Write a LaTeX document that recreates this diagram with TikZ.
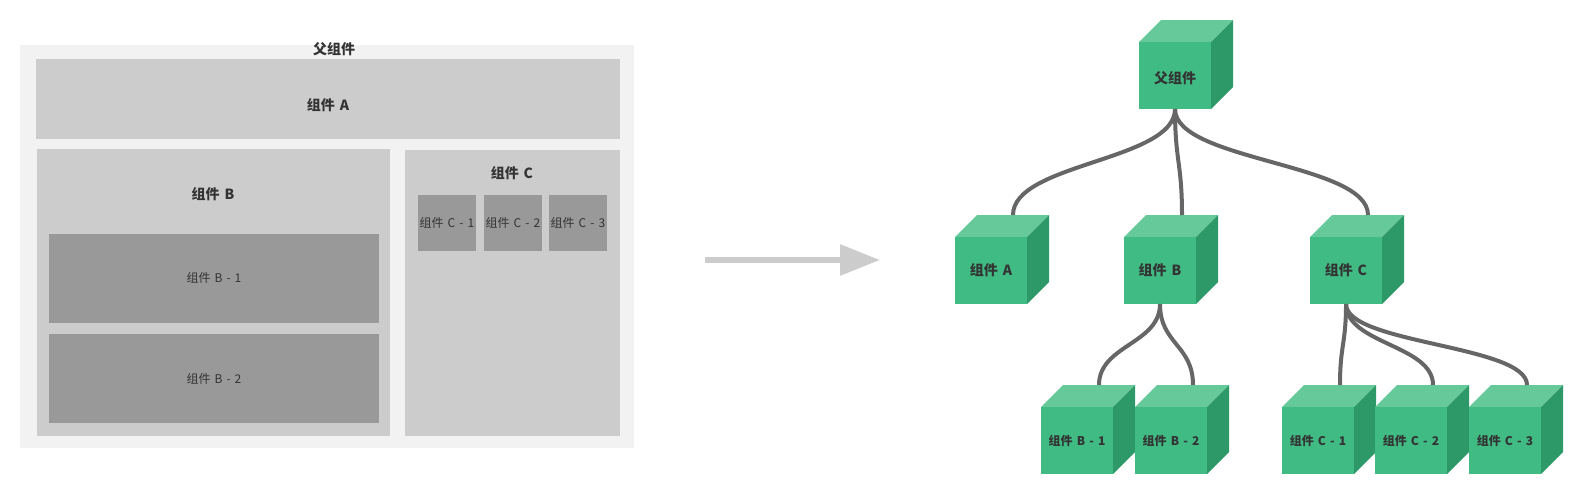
\documentclass[tikz,border=0pt]{standalone}
\usepackage{fontspec}
\setmainfont{Noto Sans CJK SC}[WordSpace=1.5]
\usetikzlibrary{arrows.meta}
\definecolor{outerg}{HTML}{F2F2F2}
\definecolor{boxg}{HTML}{CCCCCC}
\definecolor{subg}{HTML}{999999}
\definecolor{txt}{HTML}{333333}
\definecolor{cfrontc}{RGB}{63,187,131}
\definecolor{ctopc}{RGB}{102,201,153}
\definecolor{csidec}{RGB}{46,153,104}
\definecolor{lineg}{HTML}{666666}
\definecolor{arrowg}{HTML}{CCCCCC}
% #1 name, #2 x, #3 y (front top-left), #4 style, #5 label
\newcommand{\mycube}[5]{%
  \fill[ctopc] (#2,#3) -- ++(22,-22) -- ++(72,0) -- ++(-22,22) -- cycle;
  \fill[csidec] (#2+72,#3) -- ++(22,-22) -- ++(0,67) -- ++(-22,22) -- cycle;
  \node[cfront, #4, anchor=north west] (#1) at (#2,#3) {#5};
  \coordinate (#1t) at ([shift={(22,-22)}]#1.north);
}
\begin{document}
\begin{tikzpicture}[x=1pt,y=-1pt,
  panel/.style={fill=outerg},
  bigbox/.style={fill=boxg},
  subbox/.style={fill=subg},
  biglabel/.style={text=txt, font=\fontsize{14}{16}\selectfont\bfseries, inner sep=0pt},
  sublabel/.style={text=txt, font=\fontsize{12}{14}\selectfont, inner sep=0pt},
  cfront/.style={fill=cfrontc, minimum width=72pt, minimum height=67pt, inner sep=0pt, outer sep=0pt, text=txt},
  bigcube/.style={font=\fontsize{14}{16}\selectfont\bfseries},
  smallcube/.style={font=\fontsize{12}{14}\selectfont\bfseries},
  conn/.style={draw=lineg, line width=4pt},
  topconn/.style={conn, out=270, in=90, distance=52pt},
  lowconn/.style={conn, out=270, in=90, distance=40pt},
  bigarrow/.style={draw=arrowg, line width=6pt, -{Triangle[length=40pt,width=30pt]}}
]
\useasboundingbox (0,0) rectangle (1582,498);

% ---------- left panel ----------
\fill[panel] (20,45) rectangle (634,448);
\fill[bigbox] (36,59) rectangle (620,139);
\fill[bigbox] (37,149) rectangle (390,436);
\fill[bigbox] (405,150) rectangle (620,436);
\fill[subbox] (49,234) rectangle (379,323);
\fill[subbox] (49,334) rectangle (379,423);
\fill[subbox] (418,195) rectangle (476,251);
\fill[subbox] (484,195) rectangle (542,251);
\fill[subbox] (549,195) rectangle (607,251);

\node[biglabel] (lp) at (334,49) {父组件};
\node[biglabel] (la) at (328,105) {组件 A};
\node[biglabel] (lb) at (213,194) {组件 B};
\node[biglabel] (lc) at (512,173) {组件 C};
\node[sublabel] (lb1) at (214,278) {组件 B - 1};
\node[sublabel] (lb2) at (214,379) {组件 B - 2};
\node[sublabel] (lc1) at (447,223) {组件 C - 1};
\node[sublabel] (lc2) at (513,223) {组件 C - 2};
\node[sublabel] (lc3) at (578,223) {组件 C - 3};

% ---------- arrow ----------
\coordinate (arrS) at (705,260);
\coordinate (arrE) at (880,260);
\draw[bigarrow] (arrS) -- (arrE);

% ---------- cube tree ----------
\mycube{P}{1139}{42}{bigcube, text height=18pt, text depth=3pt}{父组件}
\mycube{A}{955}{237}{bigcube}{组件 A}
\mycube{B}{1124}{237}{bigcube}{组件 B}
\mycube{C}{1310}{237}{bigcube}{组件 C}
\mycube{B1}{1041}{407}{smallcube}{组件 B - 1}
\mycube{B2}{1135}{407}{smallcube}{组件 B - 2}
\mycube{C1}{1282}{407}{smallcube}{组件 C - 1}
\mycube{C2}{1375}{407}{smallcube}{组件 C - 2}
\mycube{C3}{1469}{407}{smallcube}{组件 C - 3}

\draw[topconn] (P.south) to (At);
\draw[topconn] (P.south) to (Bt);
\draw[topconn] (P.south) to (Ct);
\draw[lowconn] (B.south) to (B1t);
\draw[lowconn] (B.south) to (B2t);
\draw[lowconn] (C.south) to (C1t);
\draw[lowconn] (C.south) to (C2t);
\draw[lowconn] (C.south) to (C3t);
\end{tikzpicture}
\end{document}
